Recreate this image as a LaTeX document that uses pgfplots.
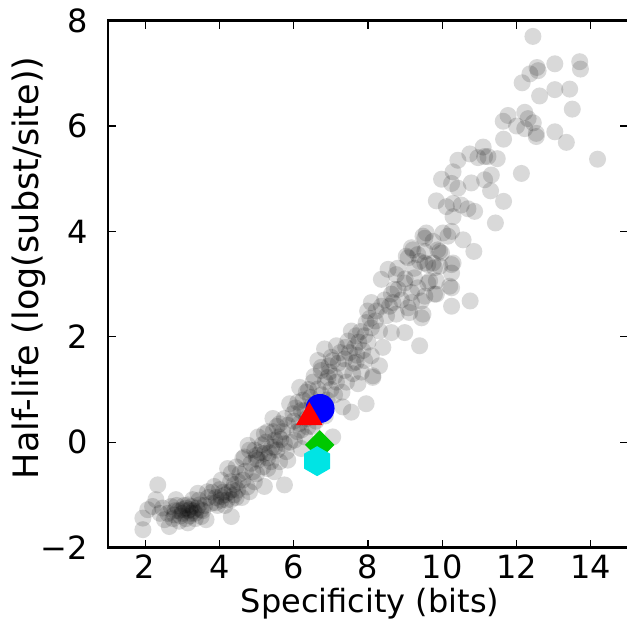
\documentclass[border=0pt]{standalone}
\usepackage{pgfplots}
\pgfplotsset{compat=1.18}
\usepackage{fontspec}
\setmainfont{DejaVu Sans}
\usetikzlibrary{plotmarks}
\pgfdeclareplotmark{hexagon*}{%
 \pgfpathmoveto{\pgfqpointpolar{90}{\pgfplotmarksize}}%
 \pgfpathlineto{\pgfqpointpolar{150}{\pgfplotmarksize}}%
 \pgfpathlineto{\pgfqpointpolar{210}{\pgfplotmarksize}}%
 \pgfpathlineto{\pgfqpointpolar{270}{\pgfplotmarksize}}%
 \pgfpathlineto{\pgfqpointpolar{330}{\pgfplotmarksize}}%
 \pgfpathlineto{\pgfqpointpolar{30}{\pgfplotmarksize}}%
 \pgfpathclose
 \pgfusepathqfill}
\definecolor{mgreen}{RGB}{0,200,0}
\definecolor{mcyan}{RGB}{0,228,228}
\pgfplotstableread{
x y
1.94 -1.44
2.07 -1.28
1.94 -1.66
2.29 -1.09
2.34 -0.81
2.20 -1.22
2.47 -1.25
2.83 -1.09
2.70 -1.22
2.79 -1.38
2.61 -1.35
2.52 -1.47
2.65 -1.60
2.92 -1.50
3.15 -1.53
3.42 -0.97
3.28 -1.09
3.46 -1.19
3.15 -1.19
3.01 -1.28
3.24 -1.35
3.51 -1.41
3.64 -1.47
4.22 -0.50
4.05 -0.72
3.86 -0.84
3.68 -0.94
4.05 -1.03
3.78 -1.16
4.32 -1.09
4.32 -1.41
4.81 -0.15
4.99 -0.31
4.63 -0.31
5.17 -0.47
4.90 -0.56
4.45 -0.47
4.32 -0.59
4.63 -0.72
4.94 -0.75
5.21 -0.84
4.81 -0.94
4.49 -0.91
5.75 -0.81
5.48 -0.56
5.62 -0.37
5.84 -0.34
3.00 -1.35
3.10 -1.25
3.30 -1.30
3.40 -1.25
2.90 -1.30
3.20 -1.40
3.60 -1.20
3.70 -1.05
3.90 -1.05
4.10 -0.95
4.20 -1.10
4.40 -1.00
4.60 -1.05
4.00 -0.90
3.95 -1.20
3.55 -1.30
2.75 -1.45
2.85 -1.20
4.50 -0.75
4.70 -0.55
4.85 -0.40
5.00 -0.60
5.10 -0.20
5.30 -0.30
5.40 -0.10
5.30 -0.50
4.40 -0.80
4.75 -0.85
2.40 -1.35
3.35 -1.45
3.80 -0.95
2.95 -1.40
3.05 -1.20
3.15 -1.30
3.25 -1.22
3.35 -1.35
3.45 -1.10
3.50 -1.28
3.20 -1.28
3.10 -1.45
2.80 -1.30
4.05 -1.10
4.15 -1.00
4.25 -0.95
4.35 -0.90
4.15 -1.20
3.90 -1.15
4.45 -1.05
4.30 -0.75
4.55 -0.60
4.77 -0.06
4.95 -0.15
5.21 -0.21
5.49 -0.09
4.67 -0.28
5.04 -0.34
5.39 -0.37
5.04 0.10
5.21 0.16
5.49 0.04
5.75 -0.03
6.02 0.04
6.20 -0.12
5.80 -0.18
5.44 0.45
5.62 0.35
5.84 0.32
6.20 0.23
6.38 0.29
5.89 0.73
6.11 0.76
5.98 0.54
6.20 0.60
6.16 1.04
6.34 0.95
6.52 1.14
6.65 1.01
7.95 0.73
7.55 0.57
7.32 0.67
7.05 0.10
6.74 1.36
6.92 1.23
7.15 1.14
7.42 1.14
7.73 1.11
8.13 1.23
5.60 0.10
5.70 0.20
5.90 0.00
6.00 0.40
6.30 0.60
6.50 0.70
6.45 0.85
6.60 0.40
6.75 0.90
6.90 0.80
7.10 0.90
7.00 1.00
7.30 0.95
6.10 0.20
6.30 0.10
5.30 0.20
6.50 0.30
6.85 0.50
5.00 -0.25
5.15 -0.05
5.25 0.00
5.35 -0.20
5.55 -0.15
5.65 0.05
5.45 0.20
5.55 0.30
5.75 0.45
6.05 0.65
6.25 0.80
6.40 1.00
6.55 1.25
6.65 1.55
6.95 1.45
7.25 1.70
7.05 1.55
6.85 1.15
6.35 0.45
6.15 0.35
6.74 1.42
6.96 1.33
7.37 1.36
7.59 1.30
7.82 1.33
8.13 1.26
7.01 1.61
7.37 1.58
7.68 1.52
7.91 1.55
8.31 1.45
6.83 1.77
7.15 1.83
7.46 1.92
7.64 1.80
7.86 1.74
8.09 1.64
8.40 1.80
9.39 1.83
7.95 2.27
8.09 2.17
7.55 2.11
7.68 2.02
7.91 2.02
8.31 2.11
8.63 2.08
8.99 2.08
7.99 2.49
8.22 2.49
8.76 2.43
9.12 2.46
9.44 2.36
10.25 2.58
10.75 2.68
8.09 2.65
8.36 2.58
8.58 2.58
8.67 2.65
9.08 2.55
9.17 2.65
9.44 2.68
8.99 3.02
8.81 2.90
8.63 2.81
9.17 2.84
9.34 2.93
9.61 3.02
9.84 2.81
8.54 3.28
8.76 3.18
8.36 3.09
10.25 3.37
10.25 3.21
10.25 2.93
9.17 3.69
9.03 3.53
9.34 3.56
9.53 3.40
9.75 3.40
9.93 3.62
9.93 3.34
9.48 3.91
9.75 3.81
7.20 1.50
7.50 1.70
7.75 1.90
8.00 1.90
8.20 2.30
8.50 2.40
8.45 2.70
8.70 2.90
8.90 2.70
9.00 3.10
8.80 3.30
9.25 3.30
7.10 1.25
7.60 1.50
7.40 1.80
7.70 1.65
7.80 2.10
8.05 2.35
9.21 3.65
9.53 3.62
9.88 3.65
9.98 3.59
9.08 3.50
9.39 3.43
9.61 3.37
9.79 3.31
10.29 3.40
9.25 3.12
9.66 3.06
9.84 3.06
10.20 2.96
9.53 2.77
9.79 2.81
9.48 2.43
9.57 3.97
9.53 3.87
10.02 3.97
10.25 4.00
10.15 3.91
10.56 3.84
10.85 3.62
9.84 4.58
10.11 4.47
10.29 4.53
10.51 4.50
10.69 4.43
10.87 4.38
10.29 4.28
11.43 4.16
9.98 4.99
10.25 4.91
10.42 4.82
10.78 4.92
11.14 4.98
11.32 5.07
11.30 4.77
11.65 4.57
10.29 5.13
10.42 5.35
10.74 5.47
10.96 5.40
11.23 5.42
11.48 5.38
12.44 7.70
13.03 7.18
13.70 7.22
13.72 7.08
12.55 7.11
12.36 6.99
12.58 7.05
12.15 6.82
12.62 6.57
13.03 6.69
13.43 6.70
13.50 6.32
11.77 6.20
11.64 6.09
12.22 6.26
12.31 6.14
12.45 6.06
12.00 6.00
12.22 5.95
12.53 5.86
12.53 5.80
13.03 5.89
13.34 5.69
14.18 5.37
11.65 5.75
11.10 5.60
11.14 5.42
12.13 5.10
}\graydata
\begin{document}
\begin{tikzpicture}
\begin{axis}[
  scale only axis, width=520pt, height=527pt,
  xmin=1, xmax=15, ymin=-2, ymax=8,
  xtick={2,4,...,14}, ytick={-2,0,...,8},
  xticklabels={2,4,6,8,10,12,14},
  yticklabels={−2,0,2,4,6,8},
  tick align=inside, tick pos=both,
  major tick length=8pt,
  axis line style={line width=2.5pt},
  every tick/.style={black, line width=1.2pt},
  tick label style={font=\fontsize{32}{38}\selectfont, inner sep=0pt},
  xticklabel style={anchor=base, yshift=-31pt},
  yticklabel style={anchor=east, xshift=-20pt},
  label style={inner sep=0pt},
  xlabel={Specificity (bits)},
  xlabel style={font=\fontsize{32}{38}\selectfont, at={(axis description cs:0.504,0)}, anchor=base, yshift=-65pt},
  ylabel={Half-life (log(subst/site))},
  ylabel style={font=\fontsize{35}{42}\selectfont, at={(axis description cs:-0.133,0.531)}, anchor=base},
  clip=false,
]
\addplot[only marks, mark=*, mark size=8.5pt, mark options={draw opacity=0, fill=black, fill opacity=0.15}] table[x=x,y=y] {\graydata};
\addplot[only marks, mark=*, mark size=14.5pt, mark options={draw opacity=0, fill=blue}] coordinates {(6.71,0.64)};
\addplot[only marks, mark=triangle*, mark size=15.5pt, mark options={draw opacity=0, fill=red}] coordinates {(6.42,0.47)};
\addplot[only marks, mark=square*, mark size=10.4pt, mark options={draw opacity=0, fill=mgreen, rotate=45}] coordinates {(6.70,-0.05)};
\addplot[only marks, mark=hexagon*, mark size=15pt, mark options={draw opacity=0, fill=mcyan}] coordinates {(6.63,-0.36)};
\end{axis}
\pgfresetboundingbox
\path[use as bounding box] ([shift={(-108pt,-83.4pt)}]current axis.south west) rectangle ([shift={(-2pt,20.6pt)}]current axis.north east);
\end{tikzpicture}
\end{document}
